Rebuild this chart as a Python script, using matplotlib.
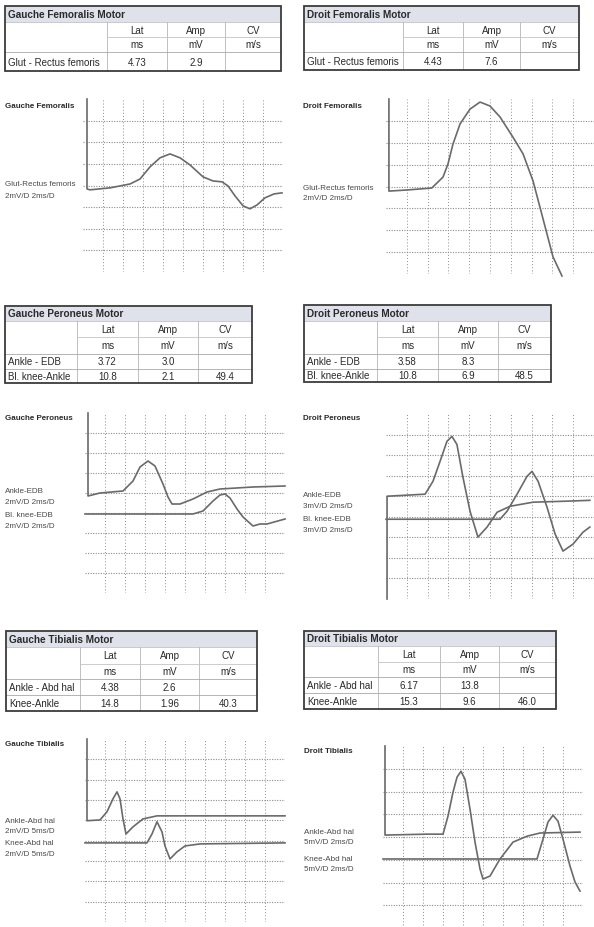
import matplotlib.pyplot as plt
from matplotlib.patches import Rectangle

W, H = 594, 928
plt.rcParams['font.family'] = ['Liberation Sans Narrow', 'Liberation Sans', 'DejaVu Sans']

TRACE = '#6a6a6a'
GRID = '#8c8c8c'
TXT = '#2a2a2a'

# ---------------- tables ----------------
col_heads = ['Lat', 'Amp', 'CV']
col_units = ['ms', 'mV', 'm/s']

gfem_title = 'Gauche Femoralis Motor'
gfem_sites = ['Glut - Rectus femoris']
gfem_lat = ['4.73']
gfem_amp = ['2.9']
gfem_cv = ['']

dfem_title = 'Droit Femoralis Motor'
dfem_sites = ['Glut - Rectus femoris']
dfem_lat = ['4.43']
dfem_amp = ['7.6']
dfem_cv = ['']

gper_title = 'Gauche Peroneus Motor'
gper_sites = ['Ankle - EDB', 'Bl. knee-Ankle']
gper_lat = ['3.72', '10.8']
gper_amp = ['3.0', '2.1']
gper_cv = ['', '49.4']

dper_title = 'Droit Peroneus Motor'
dper_sites = ['Ankle - EDB', 'Bl. knee-Ankle']
dper_lat = ['3.58', '10.8']
dper_amp = ['8.3', '6.9']
dper_cv = ['', '48.5']

gtib_title = 'Gauche Tibialis Motor'
gtib_sites = ['Ankle - Abd hal', 'Knee-Ankle']
gtib_lat = ['4.38', '14.8']
gtib_amp = ['2.6', '1.96']
gtib_cv = ['', '40.3']

dtib_title = 'Droit Tibialis Motor'
dtib_sites = ['Ankle - Abd hal', 'Knee-Ankle']
dtib_lat = ['6.17', '15.3']
dtib_amp = ['13.8', '9.6']
dtib_cv = ['', '46.0']

# ---------------- traces (x in ms divisions, y in mV divisions) ----------------
gfem_x = [0.2, 0.2, 0.35, 1.35, 2.35, 2.85, 3.35, 3.85, 4.35, 4.85, 5.35, 6.0, 6.5, 6.95,
          7.25, 7.6, 8.0, 8.35, 8.7, 9.1, 9.55, 9.95]
gfem_y = [8.0, 3.84, 3.8, 3.89, 4.07, 4.3, 4.86, 5.28, 5.46, 5.28, 4.95, 4.4, 4.21, 4.17,
          3.98, 3.52, 3.06, 2.92, 3.1, 3.43, 3.61, 3.66]

dfem_x = [0.14, 0.14, 1.0, 2.2, 2.74, 2.98, 3.22, 3.56, 4.04, 4.52, 5.0, 5.48, 6.1, 6.59,
          7.07, 7.4, 7.74, 8.03, 8.46]
dfem_y = [8.0, 3.79, 3.84, 3.93, 4.43, 5.03, 5.94, 6.86, 7.54, 7.86, 7.68, 7.18, 6.26, 5.49,
          4.25, 3.06, 1.83, 0.78, -0.09]

gper_ankle_x = [0.15, 0.15, 0.75, 1.9, 2.4, 2.75, 3.15, 3.5, 3.9, 4.15, 4.35, 4.75, 5.4, 6.1,
                6.75, 8.4, 10.0]
gper_ankle_y = [9.0, 4.85, 5.0, 5.1, 5.6, 6.3, 6.6, 6.35, 5.45, 4.8, 4.45, 4.45, 4.7, 5.05,
                5.2, 5.3, 5.35]
gper_knee_x = [0.0, 5.4, 5.9, 6.4, 6.75, 7.0, 7.25, 7.6, 7.9, 8.4, 8.75, 9.1, 10.0]
gper_knee_y = [3.95, 3.95, 4.1, 4.6, 4.9, 4.95, 4.75, 4.2, 3.8, 3.35, 3.45, 3.45, 3.7]

dper_ankle_x = [0.05, 0.05, 1.88, 2.26, 2.6, 2.93, 3.17, 3.41, 3.7, 4.04, 4.42, 4.86, 5.34,
                5.96, 7.07, 8.7, 9.8]
dper_ankle_y = [0.0, 5.0, 5.1, 5.73, 6.7, 7.67, 7.91, 7.52, 5.92, 4.27, 3.01, 3.5, 4.22,
                4.51, 4.71, 4.76, 4.8]
dper_knee_x = [0.0, 5.48, 5.82, 6.3, 6.78, 7.02, 7.31, 7.74, 8.13, 8.51, 8.99, 9.47, 9.8]
dper_knee_y = [3.88, 3.88, 4.27, 5.1, 5.97, 6.21, 5.73, 4.47, 3.16, 2.33, 2.67, 3.25, 3.5]

gtib_ankle_x = [0.1, 0.1, 0.75, 1.1, 1.4, 1.6, 1.75, 1.9, 2.05, 2.4, 2.9, 3.6, 4.9, 10.0]
gtib_ankle_y = [9.0, 4.98, 5.02, 5.42, 6.06, 6.4, 6.06, 5.07, 4.33, 4.68, 5.07, 5.22, 5.22, 5.22]
gtib_knee_x = [0.0, 3.1, 3.35, 3.6, 3.85, 4.0, 4.25, 4.6, 5.0, 5.75, 10.0]
gtib_knee_y = [3.89, 3.89, 4.33, 4.93, 4.43, 3.74, 3.1, 3.45, 3.74, 3.84, 3.89]

dtib_ankle_x = [0.1, 0.1, 2.2, 3.0, 3.25, 3.5, 3.7, 3.9, 4.1, 4.35, 4.6, 4.85, 5.0, 5.35,
                5.85, 6.5, 7.2, 7.85, 9.85]
dtib_ankle_y = [9.0, 5.09, 5.13, 5.13, 5.92, 6.97, 7.63, 7.89, 7.54, 6.23, 4.78, 3.6, 3.16,
                3.29, 4.04, 4.78, 5.04, 5.18, 5.22]
dtib_knee_x = [0.0, 7.7, 8.0, 8.25, 8.5, 8.75, 9.0, 9.35, 9.6, 9.85]
dtib_knee_y = [4.04, 4.04, 4.91, 5.66, 5.96, 5.7, 4.91, 3.73, 3.03, 2.63]

fig = plt.figure(figsize=(W / 100, H / 100), dpi=100)
fig.patch.set_facecolor('white')

bg = fig.add_axes([0, 0, 1, 1])
bg.set_xlim(0, W)
bg.set_ylim(H, 0)
bg.axis('off')


def px_axes(x0, y0, x1, y1):
    return fig.add_axes([x0 / W, 1 - y1 / H, (x1 - x0) / W, (y1 - y0) / H])


def draw_table(x0, x1, cols, rows, title, sites, lat, amp, cv):
    # cols: x of the three column separators, rows: y of each row edge
    y0, y1 = rows[0], rows[-1]
    bg.add_patch(Rectangle((x0, y0), x1 - x0, rows[1] - y0, facecolor='#dfe2ea',
                           edgecolor='none', zorder=1))
    bg.add_patch(Rectangle((x0, y0), x1 - x0, y1 - y0, facecolor='none',
                           edgecolor='#3c3c3c', lw=1.3, zorder=3))
    for c in cols:
        bg.plot([c, c], [rows[1], y1], color='#b5b5b5', lw=0.6, zorder=2)
    bg.plot([cols[0], x1], [rows[2], rows[2]], color='#c4c4c4', lw=0.6, zorder=2)
    for r in rows[3:-1]:
        bg.plot([x0, x1], [r, r], color='#a8a8a8', lw=0.6, zorder=2)
    bg.plot([x0, x1], [rows[1], rows[1]], color='#b5b5b5', lw=0.5, zorder=2)
    bg.text(x0 + 3, (rows[0] + rows[1]) / 2, title, fontsize=7.2, fontweight='bold',
            color=TXT, va='center', ha='left')
    centers = [(cols[0] + cols[1]) / 2, (cols[1] + cols[2]) / 2, (cols[2] + x1) / 2]
    for cx, hd, un in zip(centers, col_heads, col_units):
        bg.text(cx, (rows[1] + rows[2]) / 2, hd, fontsize=7, color=TXT, ha='center', va='center')
        bg.text(cx, (rows[2] + rows[3]) / 2, un, fontsize=7, color=TXT, ha='center', va='center')
    for i, site in enumerate(sites):
        yc = (rows[3 + i] + rows[4 + i]) / 2
        bg.text(x0 + 3, yc, site, fontsize=7, color=TXT, ha='left', va='center')
        for cx, val in zip(centers, (lat[i], amp[i], cv[i])):
            bg.text(cx, yc, val, fontsize=7, color=TXT, ha='center', va='center')


def draw_panel(x0, y0, x1, y1, ndiv, traces):
    ax = px_axes(x0, y0, x1, y1)
    ax.set_xlim(0, 10)
    ax.set_ylim(0, ndiv)
    for k in range(1, 10):
        ax.axvline(k, color=GRID, lw=0.7, ls=(0, (1, 2.2)), zorder=1)
    for k in range(1, ndiv):
        ax.axhline(k, color=GRID, lw=0.8, ls=(0, (1, 1.3)), zorder=1)
    for xs, ys in traces:
        ax.plot(xs, ys, color=TRACE, lw=1.2, zorder=3, clip_on=False)
    ax.axis('off')
    return ax


def side_labels(x, title, title_y, lines):
    bg.text(x, title_y, title, fontsize=5.8, fontweight='bold', color=TXT, va='center')
    for yy, s in lines:
        bg.text(x, yy, s, fontsize=5.8, color='#4a4a4a', va='center')


# femoralis row
draw_table(5, 281, [107, 167, 225], [7, 23, 38, 53, 72],
           gfem_title, gfem_sites, gfem_lat, gfem_amp, gfem_cv)
draw_table(304, 579, [403, 463, 520], [7, 23, 38, 53, 71],
           dfem_title, dfem_sites, dfem_lat, dfem_amp, dfem_cv)
draw_panel(83, 100, 283, 273, 8, [(gfem_x, gfem_y)])
draw_panel(386, 100, 594, 275, 8, [(dfem_x, dfem_y)])
side_labels(5, 'Gauche Femoralis', 106, [(185, 'Glut-Rectus femoris'), (196, '2mV/D 2ms/D')])
side_labels(303, 'Droit Femoralis', 106, [(189, 'Glut-Rectus femoris'), (199, '2mV/D 2ms/D')])

# peroneus row
draw_table(5, 252, [77, 138, 198], [307, 322, 338, 355, 370, 384],
           gper_title, gper_sites, gper_lat, gper_amp, gper_cv)
draw_table(304, 551, [377, 438, 498], [306, 322, 338, 355, 370, 383],
           dper_title, dper_sites, dper_lat, dper_amp, dper_cv)
draw_panel(85, 414, 285, 594, 9, [(gper_ankle_x, gper_ankle_y), (gper_knee_x, gper_knee_y)])
draw_panel(386, 415, 594, 600, 9, [(dper_ankle_x, dper_ankle_y), (dper_knee_x, dper_knee_y)])
side_labels(5, 'Gauche Peroneus', 419, [(492, 'Ankle-EDB'), (503, '2mV/D 2ms/D'),
                                        (516, 'Bl. knee-EDB'), (527, '2mV/D 2ms/D')])
side_labels(303, 'Droit Peroneus', 419, [(496, 'Ankle-EDB'), (507, '3mV/D 2ms/D'),
                                         (520, 'Bl. knee-EDB'), (531, '3mV/D 2ms/D')])

# tibialis row
draw_table(6, 257, [80, 140, 199], [632, 648, 665, 680, 696, 712],
           gtib_title, gtib_sites, gtib_lat, gtib_amp, gtib_cv)
draw_table(304, 556, [378, 440, 499], [632, 647, 663, 678, 694, 710],
           dtib_title, dtib_sites, dtib_lat, dtib_amp, dtib_cv)
draw_panel(85, 740, 285, 923, 9, [(gtib_ankle_x, gtib_ankle_y), (gtib_knee_x, gtib_knee_y)])
draw_panel(383, 747, 583, 952, 9, [(dtib_ankle_x, dtib_ankle_y), (dtib_knee_x, dtib_knee_y)])
side_labels(5, 'Gauche Tibialis', 745, [(822, 'Ankle-Abd hal'), (832, '2mV/D 5ms/D'),
                                        (844, 'Knee-Abd hal'), (855, '2mV/D 5ms/D')])
side_labels(304, 'Droit Tibialis', 752, [(833, 'Ankle-Abd hal'), (843, '5mV/D 2ms/D'),
                                         (860, 'Knee-Abd hal'), (870, '5mV/D 2ms/D')])

fig.savefig('out.png', dpi=100)
